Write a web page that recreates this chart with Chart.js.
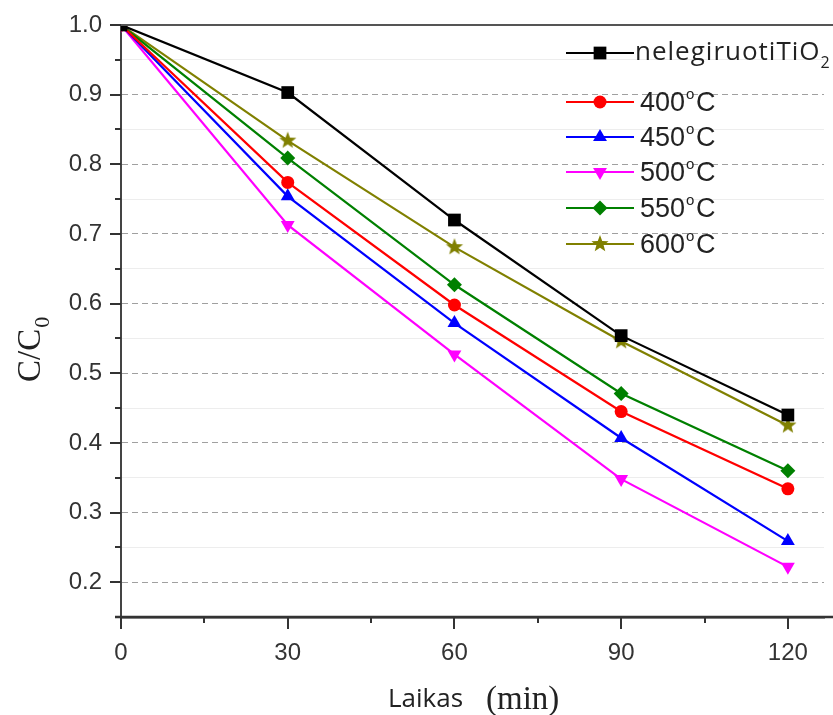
<!DOCTYPE html>
<html>
<head>
<meta charset="utf-8">
<script src="https://cdn.jsdelivr.net/npm/chart.js@4.4.1/dist/chart.umd.min.js"></script>
<style>
	html, body { margin: 0; padding: 0; background: #fff; }
	#wrap { width: 833px; height: 715px; }
</style>
</head>
<body>
<div id="wrap"><canvas id="photocanvas" width="833" height="715"></canvas></div>
<script>
// time points (min)
var minutes = [0, 30, 60, 90, 120];
// C/C0 for each sample
var undoped = [1.0, 0.903, 0.720, 0.554, 0.440];
var t400 = [1.0, 0.774, 0.598, 0.445, 0.334];
var t450 = [1.0, 0.754, 0.572, 0.407, 0.259];
var t500 = [1.0, 0.713, 0.527, 0.348, 0.222];
var t550 = [1.0, 0.809, 0.627, 0.471, 0.360];
var t600 = [1.0, 0.834, 0.681, 0.546, 0.425];

var seriesNames = ["nelegiruotiTiO", "400", "450", "500", "550", "600"];
var xMajor = [0, 30, 60, 90, 120];
var xMinor = [15, 45, 75, 105];
var yMajor = [0.2, 0.3, 0.4, 0.5, 0.6, 0.7, 0.8, 0.9, 1.0];
var yMinor = [0.25, 0.35, 0.45, 0.55, 0.65, 0.75, 0.85, 0.95];

function isMajor(list, v) {
	for (var i = 0; i < list.length; i++) {
		if (Math.abs(list[i] - v) < 1e-6) return true;
	}
	return false;
}

function pts(vals) {
	return minutes.map(function(m, i){ return {x: m, y: vals[i]}; });
}

// filled five point star for the 600 C series
function makeStar(color) {
	var c = document.createElement("canvas");
	c.width = 20; c.height = 20;
	var g = c.getContext("2d");
	g.beginPath();
	for (var i = 0; i < 10; i++) {
		var r = (i % 2 == 0) ? 9 : 3.8;
		var a = -Math.PI / 2 + i * Math.PI / 5;
		var px = 10 + r * Math.cos(a), py = 10 + r * Math.sin(a);
		if (i == 0) g.moveTo(px, py); else g.lineTo(px, py);
	}
	g.closePath();
	g.fillStyle = color;
	g.fill();
	return c;
}

var styles = [
	{color: "#000000", pointStyle: "rect", radius: 9, rotation: 0},
	{color: "#ff0000", pointStyle: "circle", radius: 6.5, rotation: 0},
	{color: "#0000ff", pointStyle: "triangle", radius: 8, rotation: 0},
	{color: "#ff00ff", pointStyle: "triangle", radius: 8, rotation: 180},
	{color: "#008000", pointStyle: "rectRot", radius: 7.5, rotation: 0},
	{color: "#808000", pointStyle: makeStar("#808000"), radius: 9, rotation: 0}
];
var values = [undoped, t400, t450, t500, t550, t600];

var datasets = values.map(function(v, i){
	var s = styles[i];
	return {
		label: seriesNames[i],
		data: pts(v),
		borderColor: s.color,
		backgroundColor: s.color,
		borderWidth: 2.2,
		pointStyle: s.pointStyle,
		pointRadius: s.radius,
		pointRotation: s.rotation,
		pointBorderWidth: 0,
		pointBackgroundColor: s.color,
		tension: 0
	};
});

var decorPlugin = {
	id: "decor",
	afterDraw: function(chart) {
		var ctx = chart.ctx;
		var area = chart.chartArea;
		var xs = chart.scales.x, ys = chart.scales.y;
		ctx.save();

		// top frame, runs off the right edge like the cropped original
		ctx.strokeStyle = "#555";
		ctx.lineWidth = 2;
		ctx.beginPath();
		ctx.moveTo(area.left, area.top);
		ctx.lineTo(chart.width, area.top);
		ctx.stroke();
		// bottom axis also runs to the edge and a bit left of the y axis
		ctx.strokeStyle = "#333";
		ctx.lineWidth = 2.5;
		ctx.beginPath();
		ctx.moveTo(area.left - 6, area.bottom);
		ctx.lineTo(chart.width, area.bottom);
		ctx.stroke();

		// tick marks
		ctx.strokeStyle = "#333";
		ctx.lineWidth = 2;
		yMajor.concat(yMinor).forEach(function(v){
			var p = Math.round(ys.getPixelForValue(v));
			var len = isMajor(yMajor, v) ? 11 : 6;
			ctx.beginPath();
			ctx.moveTo(area.left - len, p);
			ctx.lineTo(area.left, p);
			ctx.stroke();
		});
		xMajor.concat(xMinor).forEach(function(v){
			var p = Math.round(xs.getPixelForValue(v));
			var len = isMajor(xMajor, v) ? 12 : 6;
			ctx.beginPath();
			ctx.moveTo(p, area.bottom);
			ctx.lineTo(p, area.bottom + len);
			ctx.stroke();
		});

		// y title C/C0
		ctx.fillStyle = "#222";
		ctx.translate(40, 382);
		ctx.rotate(-Math.PI / 2);
		ctx.font = '33px "Liberation Serif"';
		ctx.textBaseline = "alphabetic";
		ctx.fillText("C/C", 0, 0);
		var w = ctx.measureText("C/C").width;
		ctx.font = '22px "Liberation Serif"';
		ctx.fillText("0", w + 1, 9);
		ctx.setTransform(1, 0, 0, 1, 0, 0);

		// x title
		ctx.fillStyle = "#222";
		ctx.font = '26px "Open Sans"';
		ctx.fillText("Laikas", 388, 707);
		ctx.font = '33px "Liberation Serif"';
		ctx.fillText("(min)", 486, 709);

		// legend
		var rows = [53, 102, 137, 172, 208, 244];
		chart.data.datasets.forEach(function(ds, i){
			var y = rows[i];
			ctx.strokeStyle = ds.borderColor;
			ctx.lineWidth = 2;
			ctx.beginPath();
			ctx.moveTo(566, y);
			ctx.lineTo(634, y);
			ctx.stroke();
			ctx.fillStyle = ds.borderColor;
			Chart.helpers.drawPoint(ctx, {
				pointStyle: ds.pointStyle,
				radius: ds.pointRadius,
				rotation: ds.pointRotation,
				borderWidth: 0
			}, 600, y);
			ctx.fillStyle = "#222";
			ctx.textBaseline = "middle";
			if (i == 0) {
				ctx.font = '26px "Open Sans"';
				ctx.letterSpacing = "1px";
				ctx.fillText(ds.label, 635, y);
				var lw = ctx.measureText(ds.label).width;
				ctx.font = '16px "Open Sans"';
				ctx.fillText("2", 635 + lw, y + 10);
				ctx.letterSpacing = "0px";
			} else {
				ctx.font = '27px "Liberation Sans"';
				ctx.fillText(ds.label, 640, y + 2);
				var dw = ctx.measureText(ds.label).width;
				ctx.font = '15px "Liberation Sans"';
				ctx.fillText("o", 640 + dw + 1, y - 7);
				ctx.font = '27px "Liberation Sans"';
				ctx.fillText("C", 640 + dw + 11, y + 2);
			}
		});
		ctx.restore();
	}
};

var ctx = document.getElementById("photocanvas").getContext("2d");
window.myLine = new Chart(ctx, {
	type: "line",
	data: { datasets: datasets },
	options: {
		responsive: false,
		animation: false,
		layout: { padding: { top: 25, right: 0, left: 0, bottom: 0 } },
		plugins: {
			legend: { display: false },
			title: { display: false },
			tooltip: { enabled: false }
		},
		scales: {
			x: {
				type: "linear",
				min: 0,
				max: 126.5,
				afterBuildTicks: function(scale) {
					scale.ticks = xMajor.concat(xMinor).sort(function(a, b){ return a - b; }).map(function(v){ return {value: v}; });
				},
				afterFit: function(scale) { scale.height = 98; },
				ticks: {
					padding: 10,
					color: "#333",
					font: { family: "Liberation Sans", size: 24 },
					maxRotation: 0,
					autoSkip: false,
					callback: function(v) { return isMajor(xMajor, v) ? String(v) : ""; }
				},
				grid: {
					drawOnChartArea: false,
					drawTicks: true,
					tickLength: 12,
					tickColor: "transparent"
				},
				border: { display: true, color: "#333", width: 2.5 }
			},
			y: {
				type: "linear",
				min: 0.15,
				max: 1.0,
				afterBuildTicks: function(scale) {
					scale.ticks = yMajor.concat(yMinor).sort(function(a, b){ return a - b; }).map(function(v){ return {value: v}; });
				},
				afterFit: function(scale) { scale.width = 121; },
				ticks: {
					padding: 8,
					color: "#333",
					font: { family: "Liberation Sans", size: 24 },
					autoSkip: false,
					callback: function(v) { return isMajor(yMajor, v) ? v.toFixed(1) : ""; }
				},
				grid: {
					drawTicks: true,
					tickLength: 11,
					tickColor: "transparent",
					lineWidth: 1,
					color: function(c) {
						if (!c.tick) return "transparent";
						if (c.tick.value > 0.99) return "transparent";
						return isMajor(yMajor, c.tick.value) ? "#a0a0a0" : "#ededed";
					}
				},
				border: {
					display: true,
					color: "#444",
					width: 2,
					dash: function(c) {
						return (c.tick && isMajor(yMajor, c.tick.value)) ? [6, 4] : [];
					}
				}
			}
		}
	},
	plugins: [decorPlugin]
});
</script>
</body>
</html>
